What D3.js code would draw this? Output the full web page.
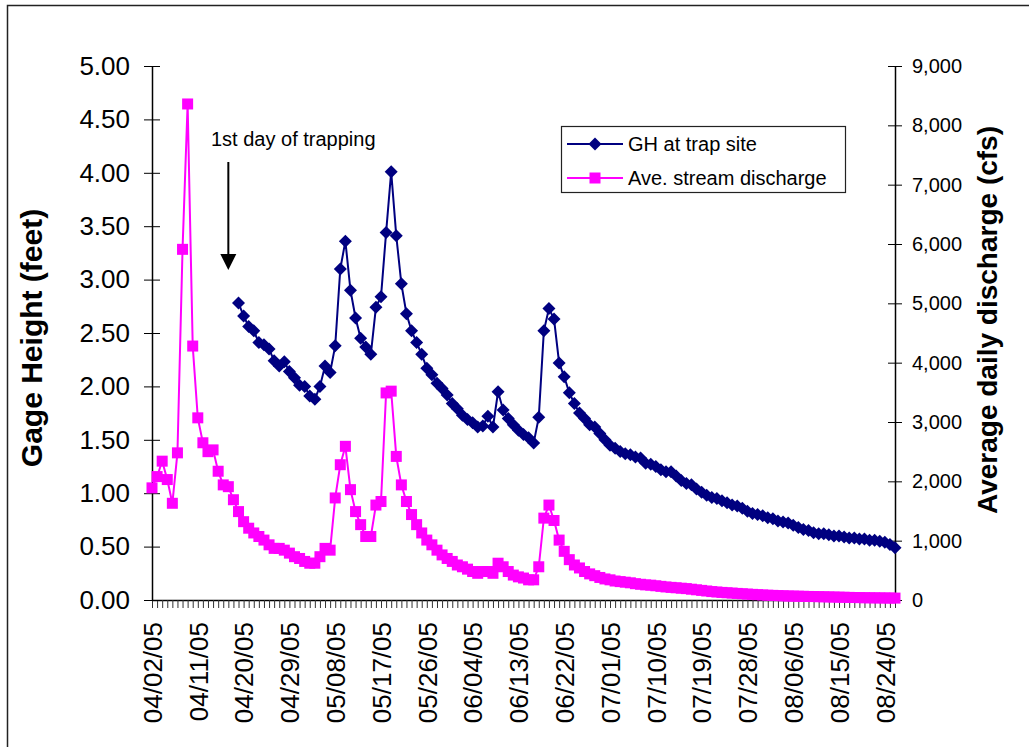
<!DOCTYPE html>
<html><head><meta charset="utf-8">
<script src="https://cdn.jsdelivr.net/npm/d3@7"></script>
<style>
body{margin:0;background:#fff}
svg{display:block}
text{font-family:"Liberation Sans",Arial,sans-serif;fill:#000}
</style>
</head><body>
<svg id="c" width="1029" height="747"></svg>
<script>
// ---------- data ----------
const startDate = "2005-04-02";
const endDate = "2005-08-26";
const labelEvery = 9;
// Ave. stream discharge (cfs), one value per day from 04/02/05 to 08/26/05
const discharge = [
  1890, 2080, 2340, 2030, 1630, 2480, 5910, 8360, 4280, 3070,
  2650, 2500, 2530, 2170, 1940, 1910, 1690, 1490, 1320, 1210,
  1130, 1070, 1010, 930, 870, 870, 840, 790, 730, 700,
  650, 620, 620, 730, 870, 840, 1720, 2280, 2590, 1860,
  1490, 1270, 1070, 1070, 1600, 1660, 3490, 3520, 2420, 1940,
  1660, 1440, 1270, 1130, 1010, 930, 840, 760, 700, 650,
  590, 560, 520, 480, 450, 480, 480, 450, 620, 560,
  480, 420, 390, 370, 340, 340, 560, 1380, 1600, 1340,
  1010, 820, 680, 590, 540, 480, 440, 410, 380, 355,
  340, 320, 310, 300, 290, 275, 265, 255, 250, 240,
  230, 220, 213, 206, 199, 192, 182, 172, 162, 152,
  142, 135, 128, 122, 117, 111, 105, 100, 95, 90,
  85, 81, 78, 74, 71, 68, 66, 64, 62, 60,
  58, 56, 54, 52, 50, 48, 46, 44, 42, 40,
  38, 37, 36, 35, 34, 33, 32
];
// GH at trap site (feet), one value per day from 04/19/05 to 08/26/05
const gageStartDate = "2005-04-19";
const gage = [
  2.78, 2.66, 2.56, 2.52, 2.41, 2.39, 2.35, 2.24, 2.19, 2.23,
  2.14, 2.08, 2.01, 2.00, 1.91, 1.88, 2.00, 2.19, 2.13, 2.38,
  3.10, 3.36, 2.90, 2.64, 2.45, 2.37, 2.30, 2.74, 2.84, 3.44,
  4.01, 3.41, 2.96, 2.68, 2.52, 2.41, 2.30, 2.17, 2.11, 2.03,
  1.98, 1.92, 1.84, 1.79, 1.73, 1.69, 1.66, 1.62, 1.63, 1.72,
  1.62, 1.95, 1.78, 1.70, 1.64, 1.59, 1.55, 1.52, 1.47, 1.71,
  2.52, 2.73, 2.63, 2.22, 2.09, 1.94, 1.84, 1.75, 1.70, 1.64,
  1.62, 1.56, 1.50, 1.45, 1.42, 1.39, 1.37, 1.36, 1.34, 1.33,
  1.28, 1.27, 1.25, 1.22, 1.20, 1.20, 1.16, 1.12, 1.09, 1.08,
  1.04, 1.01, 0.98, 0.96, 0.95, 0.93, 0.91, 0.89, 0.88, 0.86,
  0.83, 0.81, 0.80, 0.79, 0.77, 0.76, 0.74, 0.73, 0.72, 0.70,
  0.68, 0.66, 0.65, 0.63, 0.62, 0.62, 0.61, 0.60, 0.60, 0.59,
  0.58, 0.58, 0.57, 0.57, 0.56, 0.56, 0.55, 0.54, 0.52, 0.49
];
const leftTicks = [0, 0.5, 1, 1.5, 2, 2.5, 3, 3.5, 4, 4.5, 5];
const rightTicks = [0, 1000, 2000, 3000, 4000, 5000, 6000, 7000, 8000, 9000];
const seriesNames = ["GH at trap site", "Ave. stream discharge"];
const leftTitle = "Gage Height (feet)";
const rightTitle = "Average daily discharge (cfs)";
const annotationText = "1st day of trapping";
const annotationDate = "2005-04-17";

// ---------- setup ----------
const NAVY = "#000080", MAG = "#FF00FF";
const parse = d3.utcParse("%Y-%m-%d");
const fmt = d3.utcFormat("%m/%d/%y");
const days = d3.utcDay.range(parse(startDate), d3.utcDay.offset(parse(endDate), 1));
const g0 = parse(gageStartDate);
const dischargeData = discharge.map((v, i) => ({d: days[i], v}));
const gageData = gage.map((v, i) => ({d: d3.utcDay.offset(g0, i), v}));

const svg = d3.select("#c");
const L = 152, R = 895, T = 66, B = 600;
const x = d3.scaleUtc().domain([days[0], days[days.length - 1]]).range([L, R]);
const yL = d3.scaleLinear().domain([0, 5]).range([B, T]);
const yR = d3.scaleLinear().domain([0, 9000]).range([B, T]);

// outer frame
svg.append("rect").attr("x", 7.5).attr("y", 5.5).attr("width", 1040).attr("height", 760)
  .attr("fill", "none").attr("stroke", "#222").attr("stroke-width", 1.5);

// x axis
const xa = svg.append("g").attr("transform", `translate(0,${B})`)
  .call(d3.axisBottom(x).tickValues(days).tickSizeInner(8).tickSizeOuter(0).tickPadding(0)
    .tickFormat((d, i) => i % labelEvery === 0 ? fmt(d) : ""));
xa.select(".domain").attr("stroke", "#000").attr("stroke-width", 1.5);
xa.selectAll(".tick line").attr("stroke", "#333");
xa.selectAll(".tick text").attr("transform", "rotate(-90)")
  .attr("x", -22).attr("y", 0).attr("dy", "0.36em")
  .style("text-anchor", "end").style("font-size", "26px").attr("fill", "#000");

// left axis
const la = svg.append("g").attr("transform", `translate(${L},0)`)
  .call(d3.axisLeft(yL).tickValues(leftTicks).tickSizeInner(8).tickSizeOuter(0).tickPadding(14)
    .tickFormat(d3.format(".2f")));
la.select(".domain").attr("stroke", "#000").attr("stroke-width", 1.5);
la.selectAll(".tick line").attr("x1", 8).attr("stroke", "#000");
la.selectAll(".tick text").style("font-size", "26px").attr("fill", "#000");

// right axis
const ra = svg.append("g").attr("transform", `translate(${R},0)`)
  .call(d3.axisRight(yR).tickValues(rightTicks).tickSizeInner(7).tickSizeOuter(0).tickPadding(10)
    .tickFormat(d3.format(",")));
ra.select(".domain").attr("stroke", "#000").attr("stroke-width", 1.5);
ra.selectAll(".tick line").attr("x1", -7).attr("stroke", "#000");
ra.selectAll(".tick text").style("font-size", "20px").attr("fill", "#000");

// axis titles
svg.append("text").attr("transform", `translate(42,338) rotate(-90)`)
  .attr("text-anchor", "middle").style("font-size", "30px").style("font-weight", "bold").text(leftTitle);
svg.append("text").attr("transform", `translate(997,320) rotate(-90)`)
  .attr("text-anchor", "middle").style("font-size", "28px").style("font-weight", "bold").text(rightTitle);

// series
const diamond = s => `M0,${-s}L${s},0L0,${s}L${-s},0Z`;
const lineL = d3.line().x(d => x(d.d)).y(d => yL(d.v));
const lineR = d3.line().x(d => x(d.d)).y(d => yR(d.v));

svg.append("path").datum(gageData).attr("d", lineL)
  .attr("fill", "none").attr("stroke", NAVY).attr("stroke-width", 2);
svg.append("g").selectAll("path").data(gageData).join("path")
  .attr("d", diamond(6.5)).attr("transform", d => `translate(${x(d.d)},${yL(d.v)})`).attr("fill", NAVY);

svg.append("path").datum(dischargeData).attr("d", lineR)
  .attr("fill", "none").attr("stroke", MAG).attr("stroke-width", 2);
svg.append("g").selectAll("rect").data(dischargeData).join("rect")
  .attr("x", d => x(d.d) - 5.5).attr("y", d => yR(d.v) - 5.5)
  .attr("width", 11).attr("height", 11).attr("fill", MAG);

// annotation
const ax = x(parse(annotationDate));
svg.append("text").attr("x", 211).attr("y", 146).style("font-size", "20px").text(annotationText);
svg.append("line").attr("x1", ax).attr("x2", ax).attr("y1", 162).attr("y2", 258)
  .attr("stroke", "#000").attr("stroke-width", 2);
svg.append("path").attr("d", `M${ax - 8},254L${ax + 8},254L${ax},270Z`).attr("fill", "#000");

// legend
const lg = svg.append("g");
lg.append("rect").attr("x", 561.5).attr("y", 126.5).attr("width", 284).attr("height", 66)
  .attr("fill", "#fff").attr("stroke", "#222").attr("stroke-width", 1.2);
const ly = [144, 178];
[0, 1].forEach(i => {
  const col = i === 0 ? NAVY : MAG;
  lg.append("line").attr("x1", 567).attr("x2", 623).attr("y1", ly[i]).attr("y2", ly[i])
    .attr("stroke", col).attr("stroke-width", 2);
  if (i === 0) lg.append("path").attr("d", diamond(6.5)).attr("transform", `translate(595,${ly[i]})`).attr("fill", col);
  else lg.append("rect").attr("x", 589.5).attr("y", ly[i] - 5.5).attr("width", 11).attr("height", 11).attr("fill", col);
  lg.append("text").attr("x", 628).attr("y", ly[i]).attr("dy", "0.36em").style("font-size", "20px").text(seriesNames[i]);
});
</script>
</body></html>
